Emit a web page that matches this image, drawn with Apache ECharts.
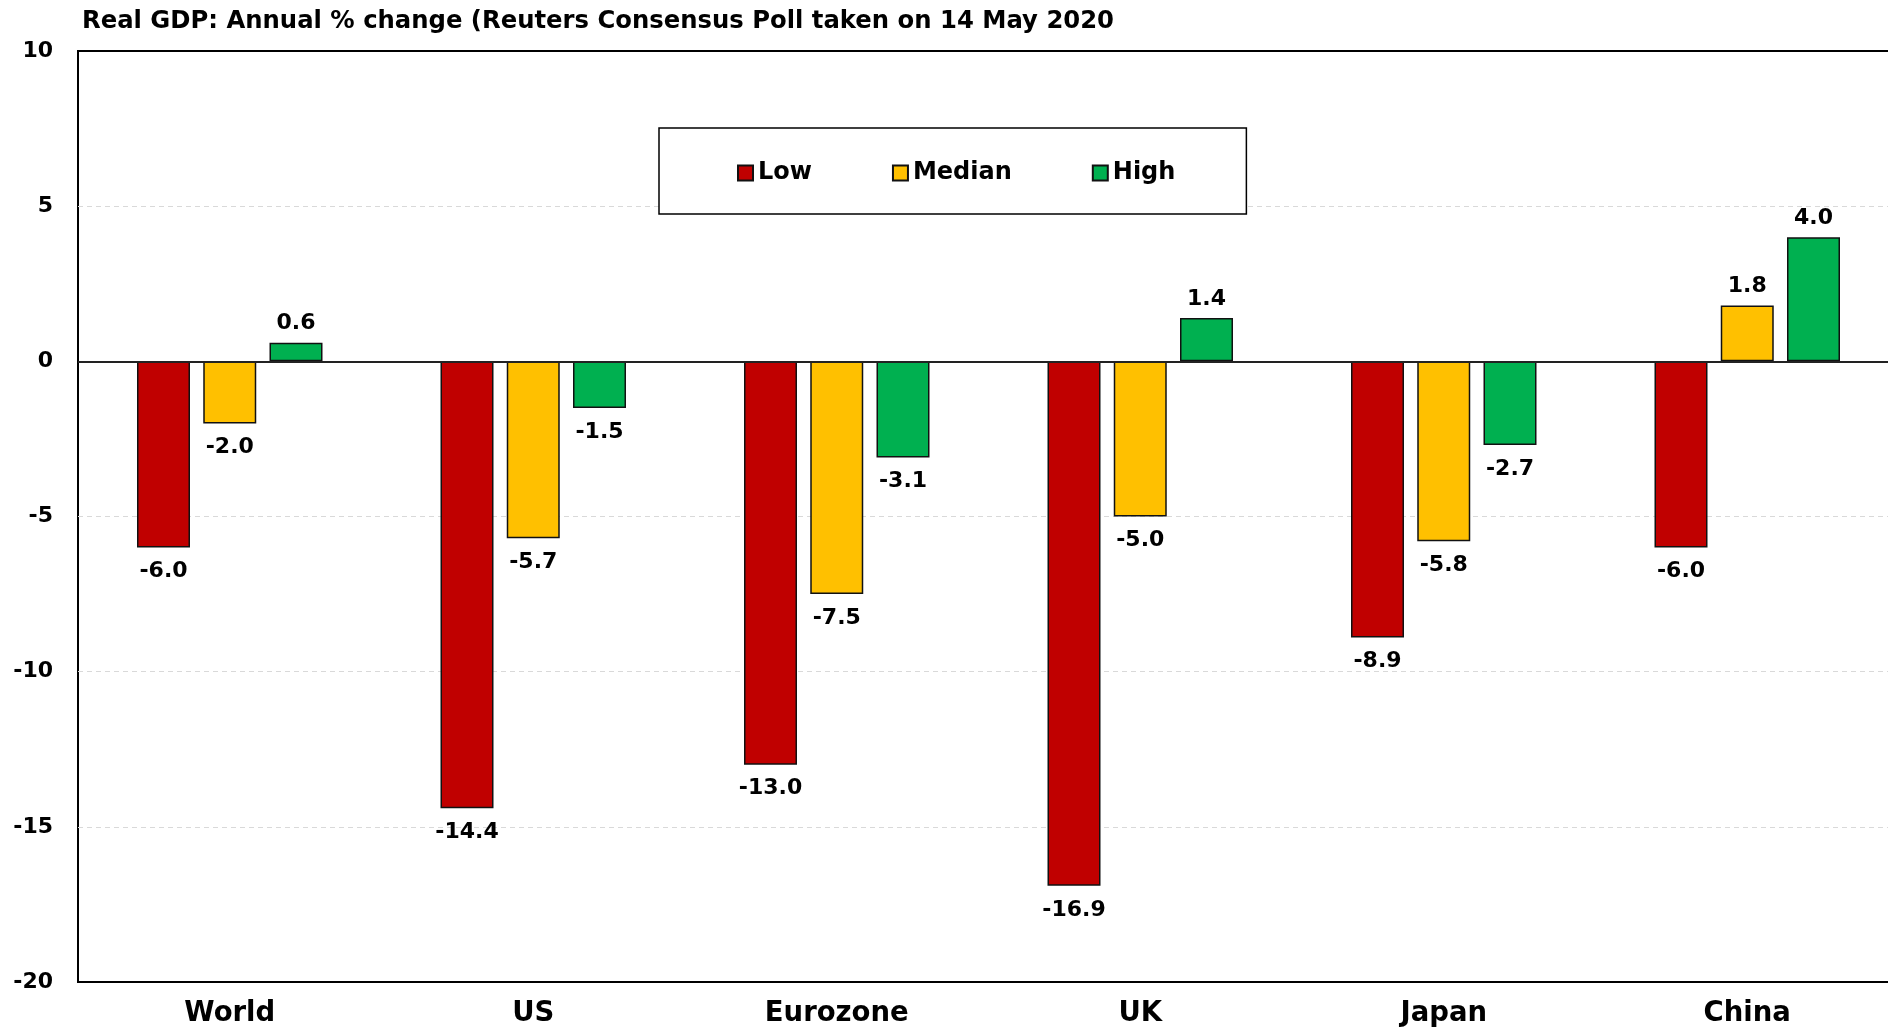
<!DOCTYPE html>
<html>
<head>
<meta charset="utf-8">
<script src="https://cdn.jsdelivr.net/npm/echarts@6/dist/echarts.min.js"></script>
<style>
html,body{margin:0;padding:0;background:#fff;}
#chart{width:1888px;height:1031px;}
</style>
</head>
<body>
<div id="chart"></div>
<script>
const categories = ['World', 'US', 'Eurozone', 'UK', 'Japan', 'China'];
const lowValues = [-6.0, -14.4, -13.0, -16.9, -8.9, -6.0];
const medianValues = [-2.0, -5.7, -7.5, -5.0, -5.8, 1.8];
const highValues = [0.6, -1.5, -3.1, 1.4, -2.7, 4.0];
const seriesNames = ['Low', 'Median', 'High'];
const titleText = 'Real GDP: Annual % change (Reuters Consensus Poll taken on 14 May 2020';

const FONT = 'DejaVu Sans';
const colors = ['#C00000', '#FFC000', '#00B050'];

function makeData(arr) {
  return arr.map(v => ({
    value: v,
    label: v < 0 ? { position: 'bottom', distance: 13 } : { position: 'top', distance: 8 }
  }));
}

function makeSeries(name, arr, color, extra) {
  return Object.assign({
    name: name,
    type: 'bar',
    data: makeData(arr),
    barWidth: 53,
    barGap: '25%',
    itemStyle: { color: color, borderColor: '#111', borderWidth: 1.5 },
    label: {
      show: true,
      color: '#000',
      fontFamily: FONT,
      fontWeight: 'bold',
      fontSize: 22,
      formatter: p => p.value.toFixed(1)
    },
    emphasis: { disabled: true }
  }, extra || {});
}

const chart = echarts.init(document.getElementById('chart'));
chart.setOption({
  animation: false,
  backgroundColor: '#fff',
  title: {
    text: titleText,
    left: 77,
    top: 5,
    textStyle: { fontFamily: FONT, fontWeight: 'bold', fontSize: 24.3, color: '#000' }
  },
  legend: {
    data: seriesNames,
    left: 659,
    top: 128,
    orient: 'horizontal',
    padding: [33, 71, 29, 78],
    itemGap: 80,
    itemWidth: 15,
    itemHeight: 15,
    icon: 'rect',
    borderColor: '#000',
    borderWidth: 1.5,
    backgroundColor: '#fff',
    textStyle: { fontFamily: FONT, fontWeight: 'bold', fontSize: 24, color: '#000', lineHeight: 24 }
  },
  grid: {
    left: 78,
    top: 51,
    width: 1821,
    bottom: 49,
    show: true,
    borderColor: '#000',
    borderWidth: 2,
    containLabel: false,
    outerBoundsMode: 'none'
  },
  xAxis: {
    type: 'category',
    data: categories,
    axisLine: { show: false, onZero: false },
    axisTick: { show: false },
    axisLabel: { fontFamily: FONT, fontWeight: 'bold', fontSize: 27.5, color: '#000', margin: 18 },
    splitLine: { show: false }
  },
  yAxis: {
    type: 'value',
    min: -20,
    max: 10,
    interval: 5,
    axisLine: { show: false },
    axisTick: { show: false },
    axisLabel: { fontFamily: FONT, fontWeight: 'bold', fontSize: 22, color: '#000', margin: 25 },
    splitLine: { show: true, showMinLine: false, showMaxLine: false, lineStyle: { color: '#d9d9d9', type: [5, 4], width: 1 } }
  },
  series: [
    makeSeries(seriesNames[0], lowValues, colors[0], {
      markLine: {
        silent: true,
        symbol: 'none',
        label: { show: false },
        lineStyle: { color: '#222', type: 'solid', width: 2 },
        data: [{ yAxis: 0 }]
      }
    }),
    makeSeries(seriesNames[1], medianValues, colors[1]),
    makeSeries(seriesNames[2], highValues, colors[2])
  ]
});
</script>
</body>
</html>
